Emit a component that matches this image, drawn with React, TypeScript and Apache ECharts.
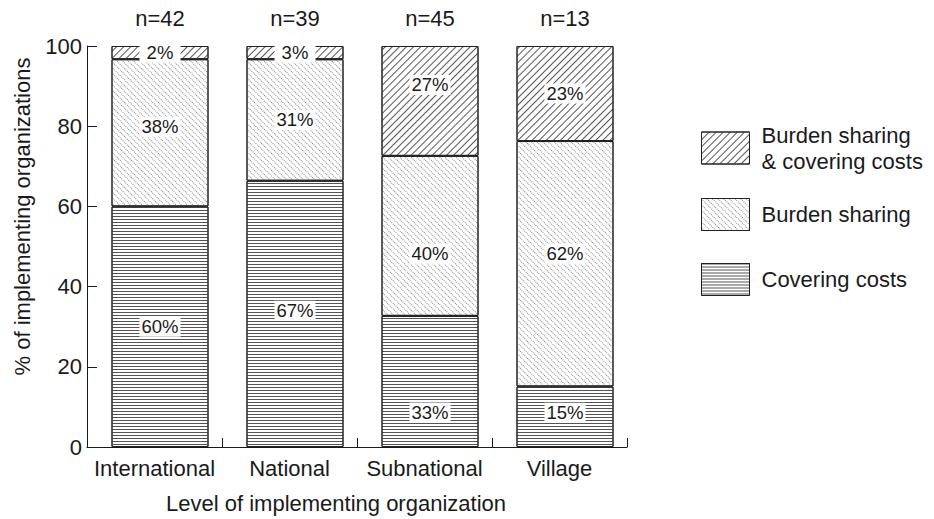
import React, { useEffect, useRef } from "react";
import * as echarts from "echarts";

const categories = ["International", "National", "Subnational", "Village"];
const nLabels = ["n=42", "n=39", "n=45", "n=13"];
const yTicks = [0, 20, 40, 60, 80, 100];

// Segment heights (% of implementing organizations)
const coveringCosts = [60, 66.4, 32.7, 15.1];
const burdenSharing = [36.7, 30.3, 39.9, 61.2];
const burdenAndCovering = [3.3, 3.3, 27.4, 23.7];

// Printed labels
const coveringLabels = ["60%", "67%", "33%", "15%"];
const burdenLabels = ["38%", "31%", "40%", "62%"];
const bothLabels = [" 2% ", " 3% ", "27%", "23%"];

// Label vertical nudges (styling)
const coveringNudge = [0, -3, 31, -4];
const burdenNudge = [-6, 0, 18, -10];
const bothNudge = [0, 0, -16, 0];

const NAME_COVER = "Covering costs";
const NAME_BURDEN = "Burden sharing";
const NAME_BOTH = "Burden sharing & covering costs";

const FONT = "'Liberation Sans', Arial, Helvetica, sans-serif";
const INK = "#1a1a1a";
const FS = 22;

function items(values: number[], labels: string[], nudge: number[]) {
  return values.map((v, i) => ({
    value: v,
    label: { formatter: labels[i], offset: [0, nudge[i]] },
  }));
}

const labelStyle = {
  show: true,
  position: "inside",
  color: INK,
  fontSize: 18.5,
  fontFamily: FONT,
  backgroundColor: "#fff",
  padding: [1, 2],
  lineHeight: 18,
};

export default function App() {
  const ref = useRef<HTMLDivElement>(null);
  useEffect(() => {
    if (!ref.current) return;
    const chart = echarts.init(ref.current, undefined, { renderer: "svg" });
    const barCommon = {
      type: "bar",
      stack: "total",
      barWidth: 97,
      barGap: 0,
      label: labelStyle,
    };
    const legendCommon = {
      left: 701,
      orient: "vertical",
      padding: 0,
      icon: "rect",
      itemWidth: 48,
      itemHeight: 32,
      itemStyle: { borderColor: "#222", borderWidth: 1 },
      textStyle: {
        color: INK,
        fontSize: FS,
        fontFamily: FONT,
        lineHeight: 26,
        padding: [0, 0, 0, 7],
      },
      selectedMode: false,
    };
    chart.setOption({
      animation: false,
      backgroundColor: "#fff",
      grid: {
        left: 87,
        right: 307,
        top: 46,
        bottom: 72,
        containLabel: false,
        outerBoundsMode: "none",
      },
      legend: [
        {
          ...legendCommon,
          top: 122,
          data: [NAME_BOTH],
          formatter: () => "Burden sharing\n& covering costs",
        },
        { ...legendCommon, top: 198, data: [NAME_BURDEN] },
        { ...legendCommon, top: 263, data: [NAME_COVER] },
      ],
      xAxis: [
        {
          type: "category",
          data: categories,
          position: "bottom",
          axisLine: { show: true, lineStyle: { color: INK, width: 1 } },
          axisTick: { show: true, inside: true, length: 9, lineStyle: { color: INK } },
          axisLabel: {
            color: INK,
            fontSize: FS,
            fontFamily: FONT,
            margin: 10,
            interval: 0,
          },
          name: "Level of implementing organization",
          nameLocation: "middle",
          nameGap: 45,
          nameTextStyle: {
            color: INK,
            fontSize: FS,
            fontFamily: FONT,
            padding: [0, 42, 0, 0],
          },
        },
        {
          type: "category",
          data: categories,
          position: "top",
          axisLine: { show: false },
          axisTick: { show: false },
          axisLabel: {
            color: INK,
            fontSize: FS,
            fontFamily: FONT,
            margin: 17,
            interval: 0,
            padding: [0, 0, 0, 11],
            formatter: (_v: string, i: number) => nLabels[i],
          },
        },
      ],
      yAxis: {
        type: "value",
        min: yTicks[0],
        max: yTicks[yTicks.length - 1],
        interval: yTicks[1] - yTicks[0],
        axisLine: { show: true, lineStyle: { color: INK, width: 1 } },
        axisTick: { show: true, inside: true, length: 10, lineStyle: { color: INK } },
        axisLabel: { color: INK, fontSize: FS, fontFamily: FONT, margin: 5 },
        splitLine: { show: false },
        name: "% of implementing organizations",
        nameLocation: "middle",
        nameGap: 54,
        nameTextStyle: {
          color: INK,
          fontSize: FS,
          fontFamily: FONT,
          padding: [0, 0, 0, 60],
        },
      },
      series: [
        {
          name: "pad",
          type: "bar",
          stack: "pad",
          barWidth: 11,
          barGap: 0,
          silent: true,
          data: categories.map(() => "-"),
        },
        {
          ...barCommon,
          name: NAME_COVER,
          data: items(coveringCosts, coveringLabels, coveringNudge),
          itemStyle: {
            color: "#fff",
            borderColor: "#222",
            borderWidth: 1,
            decal: {
              symbol: "rect",
              symbolSize: 1,
              dashArrayX: [1, 0],
              dashArrayY: [1, 2],
              rotation: 0,
              color: "#555",
              backgroundColor: "#fff",
            },
          },
        },
        {
          ...barCommon,
          name: NAME_BURDEN,
          data: items(burdenSharing, burdenLabels, burdenNudge),
          itemStyle: {
            color: "#fff",
            borderColor: "#222",
            borderWidth: 1,
            decal: {
              symbol: "rect",
              symbolSize: 1,
              dashArrayX: [1, 1],
              dashArrayY: [1, 3],
              rotation: Math.PI / 4,
              color: "#888",
              backgroundColor: "#fff",
            },
          },
        },
        {
          ...barCommon,
          name: NAME_BOTH,
          data: items(burdenAndCovering, bothLabels, bothNudge),
          itemStyle: {
            color: "#fff",
            borderColor: "#222",
            borderWidth: 1,
            decal: {
              symbol: "rect",
              symbolSize: 1,
              dashArrayX: [1, 0],
              dashArrayY: [1, 4],
              rotation: -Math.PI / 4,
              color: "#555",
              backgroundColor: "#fff",
            },
          },
        },
      ],
    });
    return () => chart.dispose();
  }, []);
  return (
    <div
      ref={ref}
      style={{ position: "fixed", left: 0, top: 0, width: 934, height: 519 }}
    />
  );
}
